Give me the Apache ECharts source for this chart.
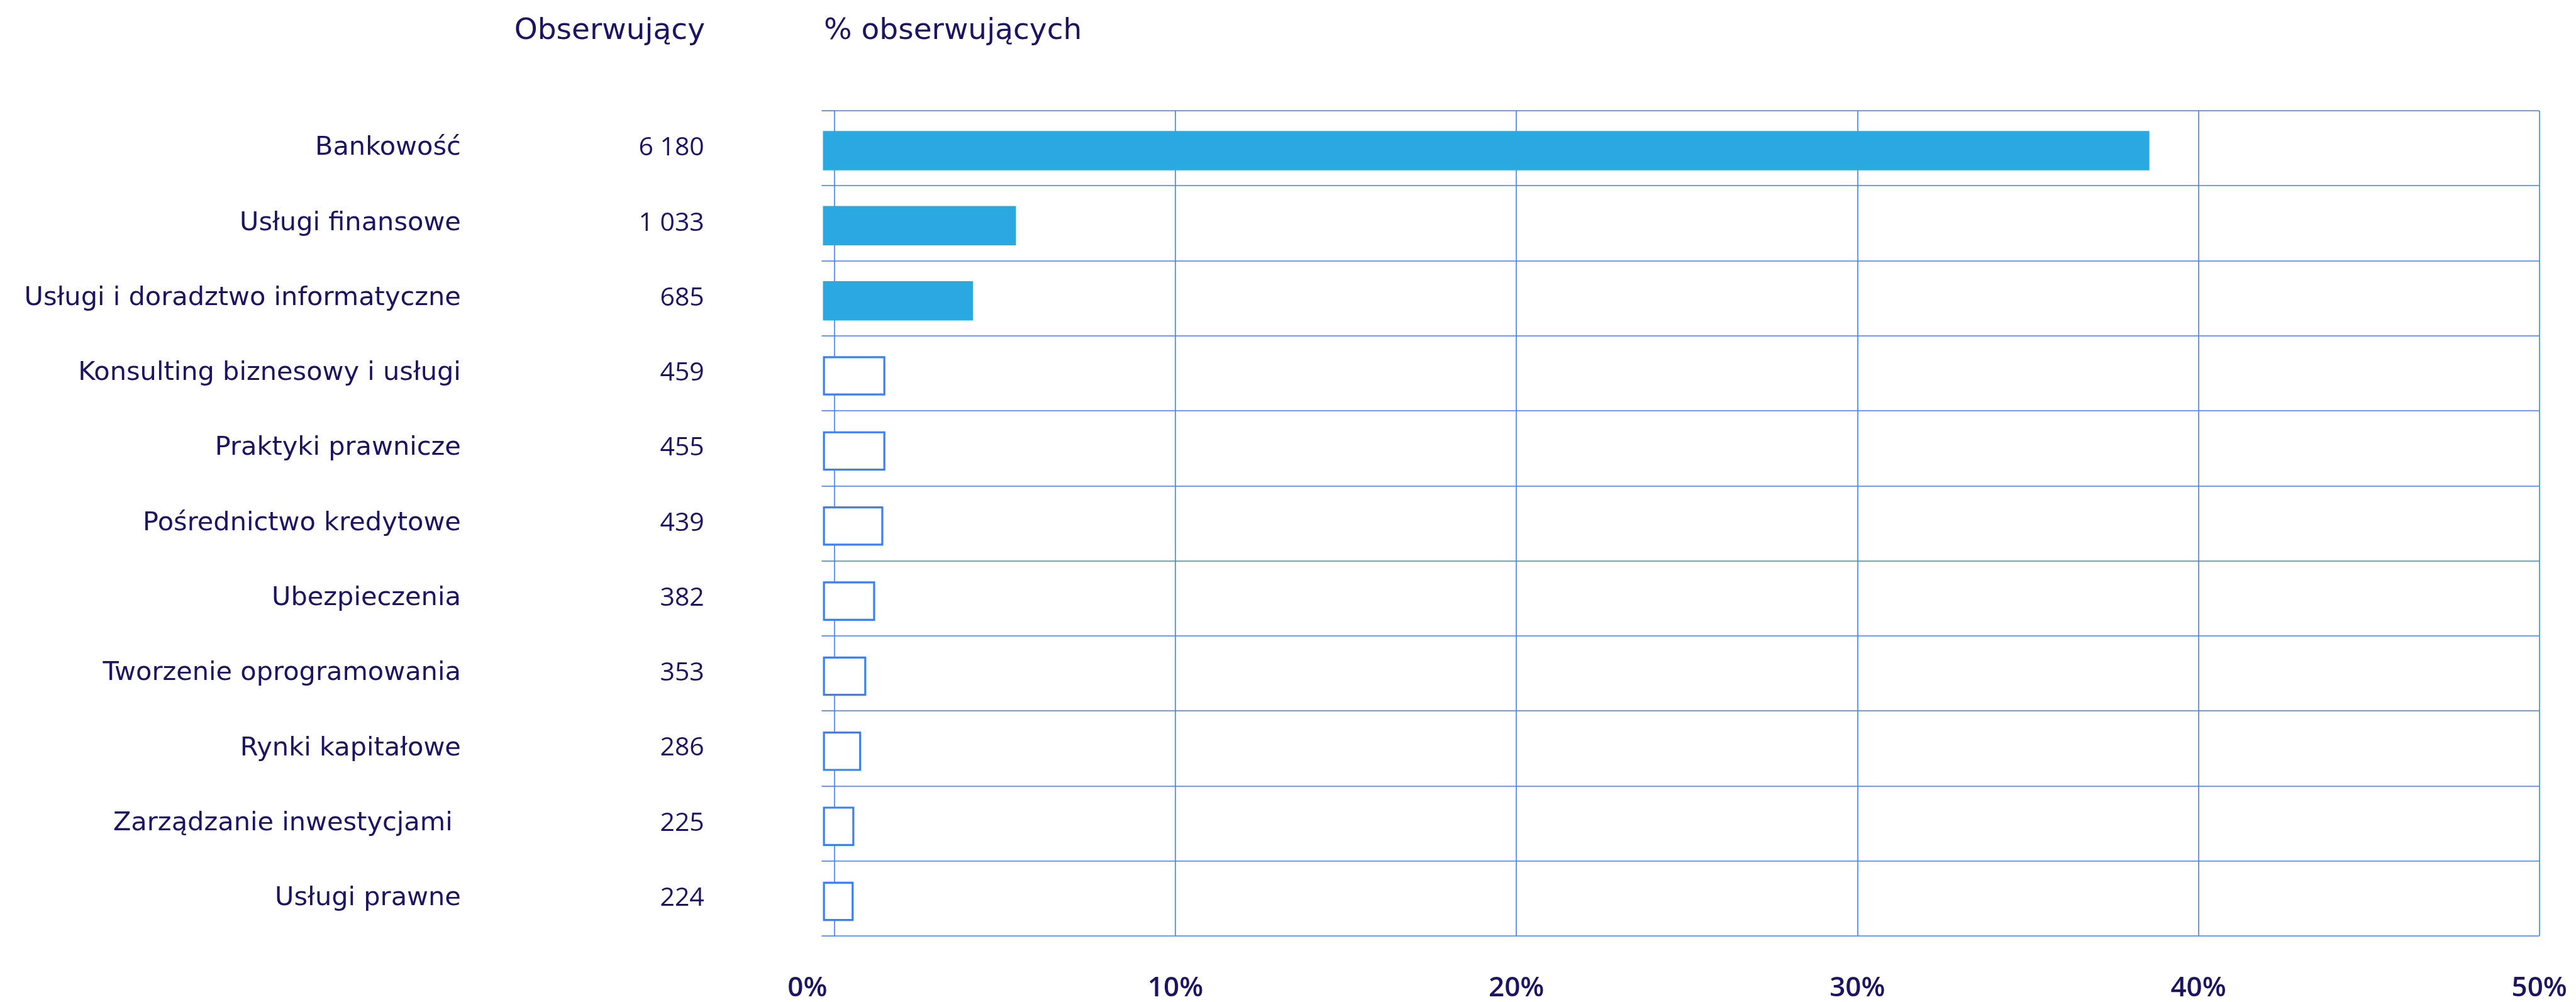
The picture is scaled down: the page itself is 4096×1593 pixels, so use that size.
<!DOCTYPE html>
<html lang="pl">
<head>
  <meta charset="utf-8" />
  <title>Obserwujący wg branży</title>
  <script src="https://cdn.jsdelivr.net/npm/echarts@6.0.0/dist/echarts.min.js"></script>
  <style>
    html, body { margin: 0; padding: 0; background: #fff; }
  </style>
</head>
<body>
  <div id="main" style="width: 4096px;height:1593px;"></div>
  <script>
    // data
    var categories = [
      'Bankowość',
      'Usługi finansowe',
      'Usługi i doradztwo informatyczne',
      'Konsulting biznesowy i usługi',
      'Praktyki prawnicze',
      'Pośrednictwo kredytowe',
      'Ubezpieczenia',
      'Tworzenie oprogramowania',
      'Rynki kapitałowe',
      'Zarządzanie inwestycjami ',
      'Usługi prawne'
    ];
    var followers = [6180, 1033, 685, 459, 455, 439, 382, 353, 286, 225, 224];
    var shares = [38.9, 5.66, 4.4, 1.83, 1.83, 1.77, 1.53, 1.27, 1.12, 0.92, 0.9];
    var xMin = 0, xMax = 50, xStep = 10;

    var S = 0.638; // reference px -> page px
    var ink = '#1c1462';
    var line = '#3f7ff0';
    var font = 'Open Sans';
    var nameFont = 'DejaVu Sans';

    function spaced(n) {
      return String(n).replace(/\B(?=(\d{3})+(?!\d))/g, ' ');
    }

    var chartDom = document.getElementById('main');
    var myChart = echarts.init(chartDom);

    var gridLeft = 2079.7 * S;
    var gridTop = 275.8 * S;
    var gridH = (2333.7 - 275.8) * S;
    var pxPerUnit = 84.98 * S;
    var barShift = 6 * S;
    var lw = 1.6;

    var option = {
      animation: false,
      textStyle: { fontFamily: font, color: ink },
      title: [
        {
          text: 'Obserwujący',
          right: 4096 - 1121,
          top: 26,
          padding: 0,
          textStyle: { fontFamily: nameFont, fontWeight: 'normal', fontSize: 47, color: ink }
        },
        {
          text: '% obserwujących',
          left: 1310,
          top: 26,
          padding: 0,
          textStyle: { fontFamily: nameFont, fontWeight: 'normal', fontSize: 47, color: ink }
        }
      ],
      grid: [
        { left: gridLeft, top: gridTop, width: xMax * pxPerUnit, height: gridH },
        { left: 2051 * S, top: gridTop + barShift, width: xMax * pxPerUnit, height: gridH }
      ],
      xAxis: [
        {
          gridIndex: 0,
          type: 'value',
          min: xMin,
          max: xMax,
          interval: xStep,
          axisLine: { show: false },
          axisTick: { show: false },
          splitLine: { show: true, showMinLine: false, lineStyle: { color: line, width: lw } },
          axisLabel: {
            margin: 61,
            fontFamily: font,
            fontSize: 44,
            fontWeight: 600,
            color: ink,
            formatter: function (v) {
              return v === 0 ? '{z|0%}' : v + '%';
            },
            rich: {
              z: { fontFamily: font, fontSize: 44, fontWeight: 600, color: ink, padding: [0, 86, 0, 0] }
            }
          }
        },
        { gridIndex: 1, type: 'value', min: xMin, max: xMax, show: false }
      ],
      yAxis: [
        {
          gridIndex: 0,
          type: 'category',
          inverse: true,
          data: categories,
          position: 'left',
          offset: 125 * S,
          axisLine: { show: true, lineStyle: { color: line, width: lw } },
          axisTick: { show: true, length: 32 * S, lineStyle: { color: line, width: lw } },
          splitLine: { show: true, lineStyle: { color: line, width: lw } },
          axisLabel: { margin: (1954.5 - 1148.5) * S, fontFamily: nameFont, fontSize: 41.5, color: ink }
        },
        {
          gridIndex: 0,
          type: 'category',
          inverse: true,
          data: followers.map(spaced),
          position: 'left',
          offset: 125 * S,
          axisLine: { show: false },
          axisTick: { show: false },
          splitLine: { show: false },
          axisLabel: { margin: (1954.5 - 1755) * S, fontFamily: font, fontSize: 41, color: ink }
        },
        { gridIndex: 1, type: 'category', inverse: true, data: categories, show: false }
      ],
      series: [
        {
          type: 'bar',
          xAxisIndex: 1,
          yAxisIndex: 2,
          barWidth: 98 * S,
          data: shares.map(function (v, i) { return i < 3 ? v : '-'; }),
          itemStyle: { color: '#29a9e0' },
          barGap: '-100%'
        },
        {
          type: 'bar',
          xAxisIndex: 1,
          yAxisIndex: 2,
          barWidth: 98 * S,
          data: shares.map(function (v, i) { return i < 3 ? '-' : v; }),
          itemStyle: { color: '#ffffff', borderColor: '#3b80f5', borderWidth: 5 * S },
          barGap: '-100%'
        }
      ]
    };

    myChart.setOption(option);
  </script>
</body>
</html>
